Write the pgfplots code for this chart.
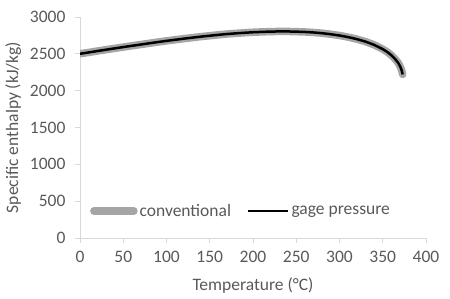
\documentclass[border=0pt]{standalone}
\usepackage{pgfplots}
\pgfplotsset{compat=1.18}
\usepackage{fontspec}
\setmainfont{Carlito}
\definecolor{txt}{RGB}{89,89,89}
\definecolor{axl}{RGB}{217,217,217}
\definecolor{conv}{RGB}{165,165,165}
\begin{document}
\begin{tikzpicture}
\begin{axis}[
  scale only axis,
  width=346pt, height=221pt,
  xmin=0, xmax=400, ymin=0, ymax=3000,
  xtick={0,50,...,400}, ytick={0,500,...,3000},
  axis x line*=bottom, axis y line*=left,
  axis line style={axl, line width=0.8pt},
  tick style={axl, line width=0.8pt},
  tick align=outside, major tick length=5pt,
  /pgf/number format/assume math mode=true,
  /pgf/number format/1000 sep={},
  tick label style={font=\fontsize{17.5}{21}\selectfont, text=txt},
  xticklabel style={yshift=-5pt},
  yticklabel style={xshift=-6pt},
  label style={font=\fontsize{17.5}{21}\selectfont, text=txt},
  xlabel style={yshift=-8pt},
  ylabel style={yshift=2pt},
  xlabel={Temperature (°C)},
  ylabel={Specific enthalpy (kJ/kg)},
  legend style={draw=none, fill=none, at={(rel axis cs:0.02,0.122)}, anchor=west,
    font=\fontsize{17.5}{21}\selectfont, text=txt, legend columns=2,
    /tikz/every even column/.append style={column sep=14pt}},
  legend cell align=left,
  legend image code/.code={\draw[#1] (0pt,0pt) -- (40pt,0pt);},
]
\addplot[conv, line width=7.5pt, line cap=round, line join=round] table {
x y
0 2501
10 2519
20 2538
30 2556
40 2574
50 2592
60 2609
70 2626
80 2643
90 2660
100 2676
110 2691
120 2706
130 2720
140 2734
150 2746
160 2758
170 2769
180 2778
190 2786
200 2793
210 2798
220 2802
230 2804
240 2804
250 2801
260 2797
270 2790
280 2780
290 2766
300 2749
310 2727
320 2700
330 2666
340 2622
350 2564
355 2527
360 2481
365 2420
368 2375
370 2331
371 2305
372 2270
372.5 2245
373 2220
};
\addlegendentry{conventional}
\addplot[black, line width=2.5pt, line join=round] table {
x y
0 2501
10 2519
20 2538
30 2556
40 2574
50 2592
60 2609
70 2626
80 2643
90 2660
100 2676
110 2691
120 2706
130 2720
140 2734
150 2746
160 2758
170 2769
180 2778
190 2786
200 2793
210 2798
220 2802
230 2804
240 2804
250 2801
260 2797
270 2790
280 2780
290 2766
300 2749
310 2727
320 2700
330 2666
340 2622
350 2564
355 2527
360 2481
365 2420
368 2375
370 2331
371 2305
372 2270
372.5 2245
373 2220
};
\addlegendentry{gage pressure}
\end{axis}
\pgfresetboundingbox
\path ([shift={(-80pt,-60pt)}]current axis.south west) rectangle ([shift={(24pt,17pt)}]current axis.north east);
\end{tikzpicture}
\end{document}
